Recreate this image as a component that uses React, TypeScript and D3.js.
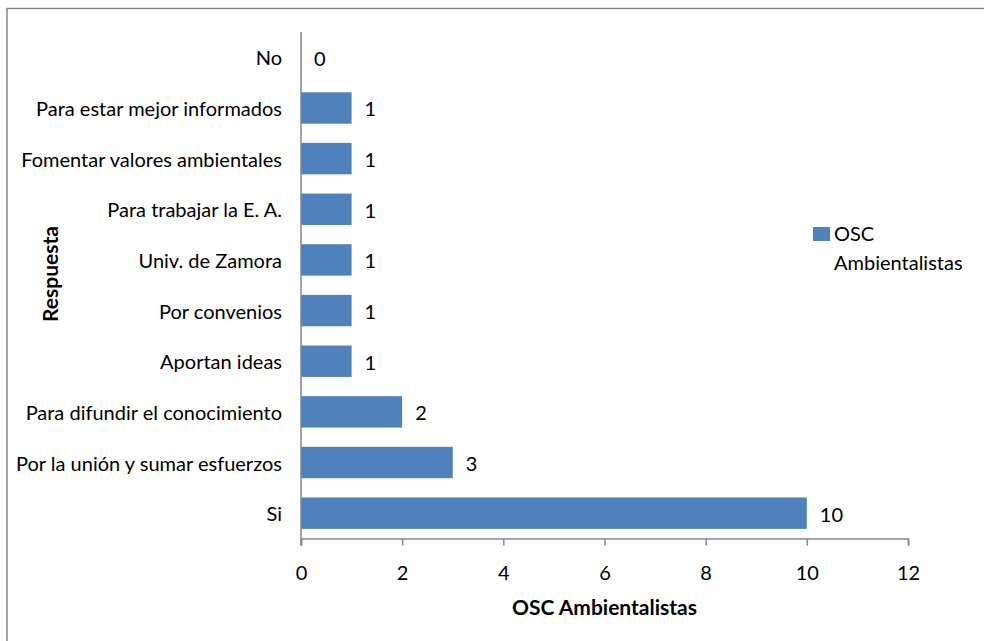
import React, { useEffect, useRef } from "react";
import * as d3 from "d3";

const categories = [
  "No",
  "Para estar mejor informados",
  "Fomentar valores ambientales",
  "Para trabajar la E. A.",
  "Univ. de Zamora",
  "Por convenios",
  "Aportan ideas",
  "Para difundir el conocimiento",
  "Por la unión y sumar esfuerzos",
  "Si",
];
const values = [0, 1, 1, 1, 1, 1, 1, 2, 3, 10];
const xTicks = [0, 2, 4, 6, 8, 10, 12];
const seriesName = "OSC Ambientalistas";
const legendLines = ["OSC", "Ambientalistas"];
const yTitle = "Respuesta";

const W = 984;
const H = 641;
const FONT = "Lato, 'Open Sans', sans-serif";
const BAR = "#4f81bd";

export default function App() {
  const ref = useRef<SVGSVGElement>(null);
  useEffect(() => {
    const svg = d3.select(ref.current);
    svg.selectAll("*").remove();
    const left = 301, right = 908, top = 32, bottom = 538.5;
    const x = d3.scaleLinear().domain([0, 12]).range([left, right]);
    const y = d3.scaleBand<string>().domain(categories).range([top, bottom]).paddingInner(0.38).paddingOuter(0.19);

    svg.append("rect").attr("x", 7).attr("y", 8.5).attr("width", 1000).attr("height", 700)
      .attr("fill", "white").attr("stroke", "#878787").attr("stroke-width", 1.5);

    // bars
    svg.append("g").selectAll("rect").data(values).join("rect")
      .attr("x", x(0))
      .attr("y", (_, i) => y(categories[i])!)
      .attr("width", (d) => x(d) - x(0))
      .attr("height", y.bandwidth())
      .attr("fill", BAR);

    // value labels
    svg.append("g").selectAll("text").data(values).join("text")
      .attr("x", (d) => x(d) + 13)
      .attr("y", (_, i) => y(categories[i])! + y.bandwidth() / 2 + 8.5)
      .attr("font-family", FONT).attr("font-size", 20).attr("fill", "#000")
      .text((d) => String(d));

    // axes
    const gx = svg.append("g").attr("transform", `translate(0,${bottom})`)
      .call(d3.axisBottom(x).tickValues(xTicks).tickSize(7).tickPadding(20).tickFormat(d3.format("d")));
    gx.select(".domain").attr("stroke", "#868686").attr("stroke-width", 1.5);
    gx.selectAll(".tick line").attr("stroke", "#868686").attr("stroke-width", 1.5);
    gx.selectAll("text").attr("font-family", FONT).attr("font-size", 20).attr("fill", "#000");

    const gy = svg.append("g").attr("transform", `translate(${left},0)`)
      .call(d3.axisLeft(y).tickSize(0).tickPadding(19));
    gy.select(".domain").attr("stroke", "#868686").attr("stroke-width", 1.5).attr("d", `M0,${top}V${bottom + 7}`);
    gy.selectAll("text").attr("font-family", FONT).attr("font-size", 20).attr("fill", "#000").attr("dy", "0.4em");

    // axis titles
    svg.append("text").attr("x", (left + right) / 2).attr("y", 615)
      .attr("text-anchor", "middle").attr("font-family", FONT).attr("font-weight", "bold")
      .attr("font-size", 21).text(seriesName);
    svg.append("text").attr("transform", `translate(58,274) rotate(-90)`)
      .attr("text-anchor", "middle").attr("font-family", FONT).attr("font-weight", "bold")
      .attr("font-size", 21).text(yTitle);

    // legend
    svg.append("rect").attr("x", 813).attr("y", 227).attr("width", 17).attr("height", 14).attr("fill", BAR);
    svg.append("g").selectAll("text").data(legendLines).join("text")
      .attr("x", 834).attr("y", (_, i) => 241 + i * 29)
      .attr("font-family", FONT).attr("font-size", 20).attr("fill", "#000")
      .text((d) => d);
  }, []);
  return (
    <svg ref={ref} width={W} height={H} style={{ position: "absolute", left: 0, top: 0, background: "white" }} />
  );
}
